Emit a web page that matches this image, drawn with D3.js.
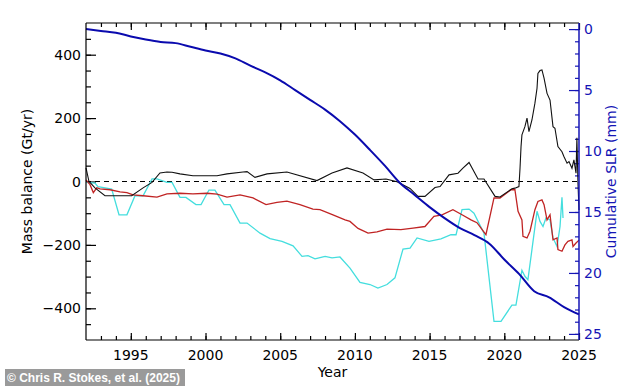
<!DOCTYPE html>
<html>
<head>
<meta charset="utf-8">
<script src="https://cdn.jsdelivr.net/npm/d3@7"></script>
<style>
  body { margin: 0; background: #fff; }
  svg text { font-family: "DejaVu Sans", sans-serif; }
  .credit { font-family: "Liberation Sans", Arial, sans-serif; font-weight: bold; }
</style>
</head>
<body>
<div id="chart"></div>
<script>
// black series (Gt/yr): [year, value]
var blackSeries = [
  [1992.00, 43], [1992.20, 0], [1992.60, -20], [1993.27, -45], [1995.06, -45],
  [1995.82, -20], [1996.42, -3], [1996.95, 27], [1997.42, 30], [1997.76, 29],
  [1998.29, 24], [1999.16, 18], [2000.77, 18], [2001.44, 24], [2002.51, 30],
  [2002.78, 31], [2003.31, 13], [2004.12, 24], [2005.45, 30], [2007.46, 3],
  [2008.47, 27], [2009.47, 43], [2010.54, 27], [2011.28, 5], [2012.08, 8],
  [2012.82, -1], [2013.69, -22], [2014.22, -47], [2014.69, -47], [2015.36, -19],
  [2015.70, -16], [2016.30, 21], [2016.90, 26], [2017.23, 42], [2017.64, 60],
  [2018.24, 8], [2018.64, 8], [2019.38, -47], [2019.71, -49], [2020.51, -23],
  [2020.71, -21], [2020.98, -16], [2021.05, 40], [2021.12, 110], [2021.18, 147],
  [2021.38, 173], [2021.52, 200], [2021.65, 157], [2021.85, 194], [2022.05, 247],
  [2022.19, 294], [2022.25, 341], [2022.39, 350], [2022.52, 352], [2022.66, 326],
  [2022.86, 278], [2023.06, 257], [2023.26, 173], [2023.39, 168], [2023.59, 110],
  [2023.86, 94], [2023.99, 79], [2024.20, 58], [2024.33, 63], [2024.53, 42],
  [2024.66, 68], [2024.80, 26], [2024.86, 138], [2024.93, -4], [2025.00, -90]
];

// red series (Gt/yr)
var redSeries = [
  [1992.00, 5], [1992.27, -10], [1992.49, -35], [1992.72, -20], [1992.94, -23],
  [1993.61, -26], [1994.28, -33], [1994.74, -35], [1995.15, -42], [1995.82, -45],
  [1996.75, -49], [1997.42, -39], [1998.29, -37], [1999.16, -39], [2000.10, -37],
  [2000.77, -40], [2001.44, -49], [2002.31, -42], [2003.18, -52], [2004.05, -73],
  [2004.78, -66], [2005.45, -62], [2006.32, -73], [2007.19, -87], [2007.66, -89],
  [2008.53, -105], [2009.34, -121], [2009.67, -126], [2010.21, -148], [2010.88, -163],
  [2011.48, -159], [2012.15, -150], [2013.08, -152], [2013.89, -147], [2014.69, -142],
  [2015.29, -110], [2015.83, -105], [2016.56, -89], [2017.17, -105], [2017.77, -121],
  [2018.17, -130], [2018.77, -168], [2019.31, -52], [2019.71, -52], [2020.45, -26],
  [2020.71, -26], [2020.92, -94], [2021.18, -121], [2021.25, -173], [2021.52, -178],
  [2021.72, -157], [2022.05, -89], [2022.25, -63], [2022.52, -58], [2022.66, -73],
  [2022.86, -121], [2023.06, -105], [2023.26, -184], [2023.53, -178], [2023.59, -215],
  [2023.86, -220], [2024.06, -200], [2024.26, -189], [2024.53, -184], [2024.60, -205],
  [2024.80, -194], [2025.00, -185]
];

// cyan series (Gt/yr)
var cyanSeries = [
  [1992.00, -3], [1992.60, -5], [1992.80, -16], [1993.72, -24], [1994.21, -105],
  [1994.74, -105], [1995.28, -45], [1995.82, -45], [1996.42, 8], [1996.75, 8],
  [1997.42, -3], [1997.76, -3], [1998.29, -50], [1998.69, -50], [1999.36, -73],
  [1999.70, -73], [2000.23, -27], [2000.63, -27], [2001.24, -73], [2001.64, -73],
  [2002.31, -131], [2002.78, -131], [2003.65, -163], [2004.32, -180], [2005.12, -189],
  [2005.86, -203], [2006.46, -236], [2006.86, -234], [2007.33, -244], [2008.00, -236],
  [2008.47, -241], [2009.00, -238], [2009.67, -273], [2010.34, -318], [2011.01, -325],
  [2011.54, -336], [2012.15, -325], [2012.68, -304], [2013.22, -213], [2013.69, -210],
  [2014.16, -178], [2014.96, -189], [2015.76, -181], [2016.43, -168], [2016.77, -168],
  [2017.17, -89], [2017.64, -87], [2017.97, -100], [2018.64, -163], [2019.31, -441],
  [2019.78, -441], [2020.51, -390], [2020.78, -390], [2021.18, -280], [2021.38, -299],
  [2021.58, -310], [2021.85, -215], [2022.19, -94], [2022.39, -126], [2022.59, -142],
  [2022.79, -115], [2023.06, -121], [2023.26, -178], [2023.53, -205], [2023.73, -142],
  [2023.86, -50], [2023.93, -115]
];

// cumulative sea level rise (mm), right axis
var slrSeries = [
  [1992, 0.0], [1993, 0.15], [1994, 0.3], [1995, 0.6], [1996, 0.85], [1997, 1.05],
  [1998, 1.15], [1999, 1.45], [2000, 1.75], [2001, 2.0], [2002, 2.4], [2003, 3.0],
  [2004, 3.55], [2005, 4.2], [2006, 5.0], [2007, 5.8], [2008, 6.6], [2009, 7.55],
  [2010, 8.65], [2011, 9.9], [2012, 11.2], [2013, 12.6], [2014, 13.6], [2015, 14.6],
  [2016, 15.5], [2017, 16.3], [2018, 16.9], [2019, 17.6], [2020, 18.9], [2021, 20.1],
  [2022, 21.5], [2023, 22.0], [2024, 22.8], [2025, 23.4]
];

var yearTicks = [1995, 2000, 2005, 2010, 2015, 2020, 2025];
var massTicks = [-400, -200, 0, 200, 400];
var slrTicks = [0, 5, 10, 15, 20, 25];

var W = 634, H = 386;
var margin = {top: 23, right: 55, bottom: 46, left: 86};
var width = W - margin.left - margin.right,   // 493
    height = H - margin.top - margin.bottom;  // 317

var svg = d3.select("#chart").append("svg")
  .attr("width", W)
  .attr("height", H);

var g = svg.append("g")
  .attr("transform", "translate(" + margin.left + "," + margin.top + ")");

var x = d3.scaleLinear().domain([1992, 2025]).range([0, width]);
var y = d3.scaleLinear().domain([-500, 500]).range([height, 0]);
var y2 = d3.scaleLinear().domain([-0.5, 25.5]).range([0, height]);

var minorYears = d3.range(1993, 2025);
var minorMass = d3.range(-450, 500, 50);
var minorSlr = d3.range(0, 26, 1);

// minor ticks
g.append("g").attr("class", "axis")
  .attr("transform", "translate(0," + height + ")")
  .call(d3.axisTop(x).tickValues(minorYears).tickSize(4).tickFormat(""));
g.append("g").attr("class", "axis")
  .call(d3.axisBottom(x).tickValues(minorYears).tickSize(4).tickFormat(""));
g.append("g").attr("class", "axis")
  .call(d3.axisRight(y).tickValues(minorMass).tickSize(5).tickFormat(""));
g.append("g").attr("class", "axis axis-r")
  .attr("transform", "translate(" + width + ",0)")
  .call(d3.axisLeft(y2).tickValues(minorSlr).tickSize(4).tickFormat(""));

// major ticks
g.append("g").attr("class", "axis")
  .attr("transform", "translate(0," + height + ")")
  .call(d3.axisTop(x).tickValues(yearTicks).tickSize(7).tickFormat(""));
g.append("g").attr("class", "axis")
  .call(d3.axisBottom(x).tickValues(yearTicks).tickSize(7).tickFormat(""));
g.append("g").attr("class", "axis")
  .call(d3.axisRight(y).tickValues(massTicks).tickSize(10).tickFormat(""));
g.append("g").attr("class", "axis axis-r")
  .attr("transform", "translate(" + width + ",0)")
  .call(d3.axisLeft(y2).tickValues(slrTicks).tickSize(10).tickFormat(""));

g.selectAll(".axis path.domain").remove();
g.selectAll(".axis line").attr("stroke", "#000").attr("stroke-width", 1.2);
g.selectAll(".axis-r line").attr("stroke", "#1515b5");

// tick labels
g.selectAll(".xlab").data(yearTicks)
  .enter().append("text")
  .attr("x", function(d) { return x(d); })
  .attr("y", height + 20)
  .attr("text-anchor", "middle")
  .attr("font-size", 14)
  .text(function(d) { return d; });

g.selectAll(".ylab").data(massTicks)
  .enter().append("text")
  .attr("x", -5)
  .attr("y", function(d) { return y(d) + 5; })
  .attr("text-anchor", "end")
  .attr("font-size", 14)
  .text(function(d) { return d < 0 ? "\u2212" + Math.abs(d) : d; });

g.selectAll(".y2lab").data(slrTicks)
  .enter().append("text")
  .attr("x", width + 5)
  .attr("y", function(d) { return y2(d) + 5; })
  .attr("font-size", 14)
  .attr("fill", "#1515b5")
  .text(function(d) { return d; });

// zero line
g.append("line")
  .attr("x1", 0).attr("x2", width)
  .attr("y1", y(0)).attr("y2", y(0))
  .attr("stroke", "#000")
  .attr("stroke-dasharray", "5,4");

var line = d3.line()
  .x(function(d) { return x(d[0]); })
  .y(function(d) { return y(d[1]); });
var line2 = d3.line()
  .x(function(d) { return x(d[0]); })
  .y(function(d) { return y2(d[1]); })
  .curve(d3.curveMonotoneX);

g.append("path").datum(cyanSeries)
  .attr("fill", "none").attr("stroke", "#44dede").attr("stroke-width", 1.3)
  .attr("d", line);
g.append("path").datum(redSeries)
  .attr("fill", "none").attr("stroke", "#c02424").attr("stroke-width", 1.3)
  .attr("d", line);
g.append("path").datum(blackSeries)
  .attr("fill", "none").attr("stroke", "#111").attr("stroke-width", 1.1)
  .attr("d", line);
g.append("path").datum(slrSeries)
  .attr("fill", "none").attr("stroke", "#0a0aae").attr("stroke-width", 2)
  .attr("d", line2);

// frame
g.append("line").attr("x1", 0).attr("x2", width).attr("y1", 0).attr("y2", 0)
  .attr("stroke", "#000").attr("stroke-width", 1.2);
g.append("line").attr("x1", 0).attr("x2", width).attr("y1", height).attr("y2", height)
  .attr("stroke", "#000").attr("stroke-width", 1.2);
g.append("line").attr("x1", 0).attr("x2", 0).attr("y1", 0).attr("y2", height)
  .attr("stroke", "#000").attr("stroke-width", 1.2);
g.append("line").attr("x1", width).attr("x2", width).attr("y1", 0).attr("y2", height)
  .attr("stroke", "#1515b5").attr("stroke-width", 1.5);

// axis titles
svg.append("text")
  .attr("x", margin.left + width / 2)
  .attr("y", 377)
  .attr("text-anchor", "middle")
  .attr("font-size", 14)
  .text("Year");

svg.append("text")
  .attr("transform", "translate(32," + (margin.top + height / 2) + ") rotate(-90)")
  .attr("text-anchor", "middle")
  .attr("font-size", 14)
  .text("Mass balance  (Gt/yr)");

svg.append("text")
  .attr("transform", "translate(616," + (margin.top + height / 2) + ") rotate(-90)")
  .attr("text-anchor", "middle")
  .attr("font-size", 14)
  .attr("fill", "#1515b5")
  .text("Cumulative SLR (mm)");

// credit
svg.append("rect")
  .attr("x", 5).attr("y", 369).attr("width", 180).attr("height", 17)
  .attr("fill", "#9a9a9a");
svg.append("text")
  .attr("class", "credit")
  .attr("x", 7).attr("y", 382)
  .attr("font-size", 12)
  .attr("fill", "#fff")
  .text("\u00a9 Chris R. Stokes, et al. (2025)");
</script>
</body>
</html>
